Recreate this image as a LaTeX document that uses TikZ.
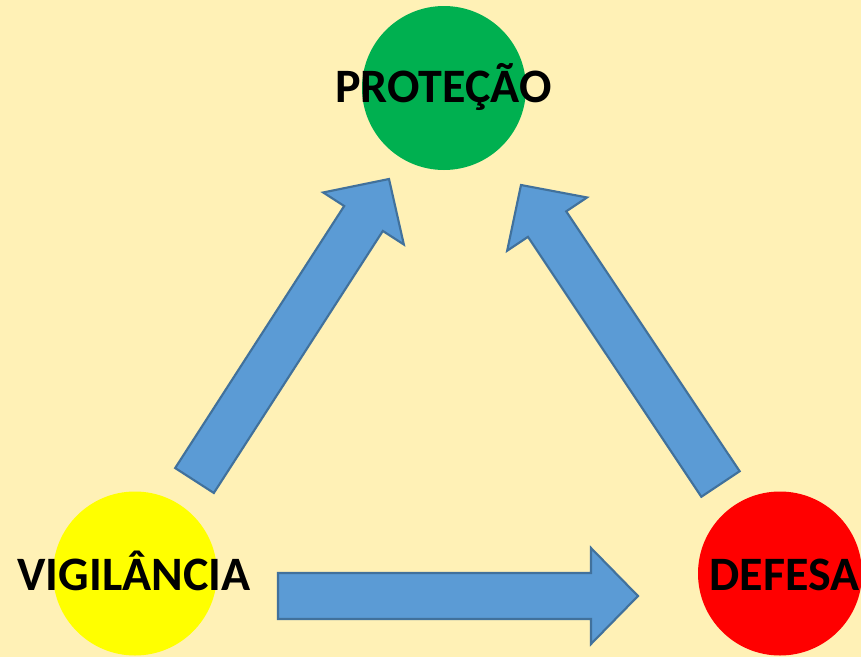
\documentclass[tikz,border=0pt]{standalone}
\usepackage{fontspec}
\setmainfont{Carlito}
\usetikzlibrary{calc}
\definecolor{bgc}{HTML}{FFF1B6}
\definecolor{arrowfill}{HTML}{5B9BD5}
\definecolor{arrowdraw}{HTML}{41719C}
\definecolor{cgreen}{HTML}{00B050}
\definecolor{cyellow}{HTML}{FFFF00}
\definecolor{cred}{HTML}{FF0000}
\tikzset{
  disc/.style={circle, inner sep=0pt, minimum size=123pt},
  lbl/.style={anchor=base, inner sep=0pt, font=\bfseries\fontsize{36}{40}\selectfont, text=black},
  blockarrow/.style={fill=arrowfill, draw=arrowdraw, line width=1.6pt, line join=miter},
}
\newcommand{\blockarr}[2]{%
  \draw[blockarrow]
    ($(#1)!17.25pt!90:(#2)$) --
    ($($(#2)!35.25pt!(#1)$)!17.25pt!90:(#2)$) --
    ($($(#2)!35.25pt!(#1)$)!36pt!90:(#2)$) --
    (#2) --
    ($($(#2)!35.25pt!(#1)$)!36pt!-90:(#2)$) --
    ($($(#2)!35.25pt!(#1)$)!17.25pt!-90:(#2)$) --
    ($(#1)!17.25pt!-90:(#2)$) -- cycle;}
\begin{document}
\begin{tikzpicture}[x=0.75pt, y=-0.75pt]
  \fill[bgc] (0,0) rectangle (861,657);
  \useasboundingbox (0,0) rectangle (861,657);
  % circles
  \node[disc, fill=cgreen] (prot) at (444,88) {};
  \node[disc, fill=cyellow] (vig) at (135,573.5) {};
  \node[disc, fill=cred] (def) at (780,573.5) {};
  % arrow end points
  \coordinate (a1t) at (194.5,480.5);
  \coordinate (a1h) at (389,179);
  \coordinate (a2t) at (720.5,484);
  \coordinate (a2h) at (521,185);
  \coordinate (a3t) at (278,596);
  \coordinate (a3h) at (638,596);
  \blockarr{a1t}{a1h}
  \blockarr{a2t}{a2h}
  \blockarr{a3t}{a3h}
  % labels
  \node[lbl] (tprot) at (443.5,102.5) {PROTEÇÃO};
  \node[lbl] (tvig) at (134,590.5) {VIGILÂNCIA};
  \node[lbl] (tdef) at (784.5,590.5) {DEFESA};
\end{tikzpicture}
\end{document}
